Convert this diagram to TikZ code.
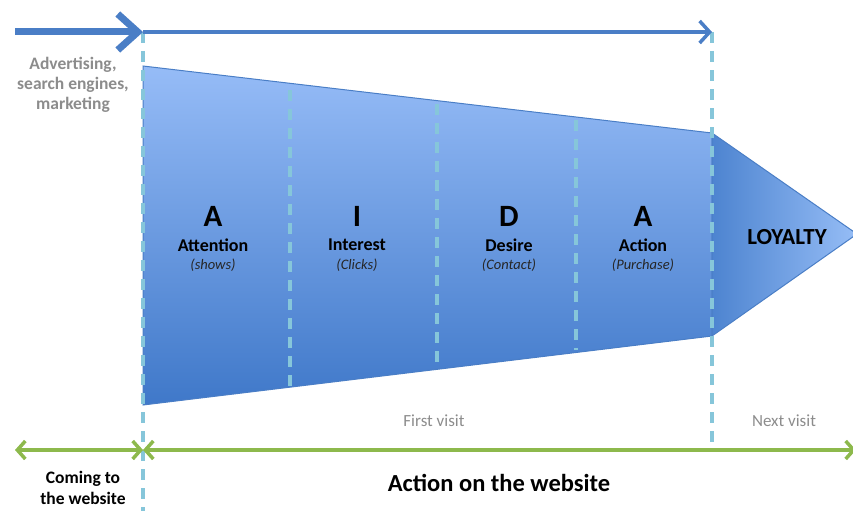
\documentclass[tikz,border=0pt]{standalone}
\usepackage{fontspec}
\setmainfont{Carlito}
\usetikzlibrary{arrows.meta}
\definecolor{flow}{HTML}{4A7EC6}
\definecolor{dashc}{HTML}{86C6DA}
\definecolor{grn}{HTML}{8DB94C}
\definecolor{greytxt}{HTML}{8C8C8C}
\definecolor{ftop}{HTML}{96BCF7}
\definecolor{fbot}{HTML}{3F78C9}
\definecolor{lleft}{HTML}{4D84D0}
\definecolor{lright}{HTML}{96BDF6}
\tikzset{
  guide/.style={dashc, line width=3.2pt, dash pattern=on 11pt off 8pt},
  letter/.style={font=\bfseries\fontsize{31}{33}\selectfont, text=black},
  title/.style={font=\bfseries\fontsize{18}{20}\selectfont, text=black},
  sub/.style={font=\itshape\fontsize{14.5}{16}\selectfont, text=black!85},
  grey/.style={font=\fontsize{17}{19}\selectfont, text=greytxt},
  greyb/.style={font=\bfseries\fontsize{17.5}{20}\selectfont, text=greytxt, align=center},
  gbarb/.tip={Straight Barb[length=8pt,width=18pt,line width=3.5pt]},
}
\begin{document}
\begin{tikzpicture}[x=1pt,y=-1pt]
\useasboundingbox (0,0) rectangle (853,511);
\clip (0,0) rectangle (853,511);
% coordinates
\coordinate (ft) at (143,66);
\coordinate (fb) at (143,405);
\coordinate (rt) at (712,133);
\coordinate (rb) at (712,336);
\coordinate (tip) at (857,234);
% funnel
\shade[top color=ftop, bottom color=fbot, draw=flow, line width=1pt] (ft) -- (rt) -- (rb) -- (fb) -- cycle;
\shade[left color=lleft, right color=lright, draw=flow, line width=1pt] (rt) -- (tip) -- (rb) -- cycle;
% guides
\coordinate (g0t) at (143,32); \coordinate (g0b) at (143,511);
\coordinate (g1t) at (290,90); \coordinate (g1b) at (290,386);
\coordinate (g2t) at (437,104); \coordinate (g2b) at (437,366);
\coordinate (g3t) at (576,120); \coordinate (g3b) at (576,350);
\coordinate (g4t) at (712,32); \coordinate (g4b) at (712,445);
\draw[guide] (g0t) -- (g0b);
\draw[guide] (g1t) -- (g1b);
\draw[guide] (g2t) -- (g2b);
\draw[guide] (g3t) -- (g3b);
\draw[guide] (g4t) -- (g4b);
% top arrows
\coordinate (a0) at (15,32);
\draw[flow, line width=7pt, -{Straight Barb[length=20pt,width=36pt,line width=7pt]}] (a0) -- (g0t);
\draw[flow, line width=3.5pt, -{Straight Barb[length=10pt,width=22pt,line width=3.5pt]}] (g0t) -- (g4t);
% bottom arrows
\coordinate (b0) at (15,450);
\coordinate (b1) at (143,450);
\coordinate (b2) at (856,450);
\draw[grn, line width=3.5pt, gbarb-gbarb] (b0) -- (b1);
\draw[grn, line width=3.5pt, gbarb-gbarb] (b1) -- (b2);
% stage texts
\node[letter] (l1) at (213,216) {A};
\node[title] (t1) at (213,245) {Attention};
\node[sub] (s1) at (213,265) {(shows)};
\node[letter] (l2) at (357,216) {I};
\node[title] (t2) at (357,245) {Interest};
\node[sub] (s2) at (357,265) {(Clicks)};
\node[letter] (l3) at (509,216) {D};
\node[title] (t3) at (509,245) {Desire};
\node[sub] (s3) at (509,265) {(Contact)};
\node[letter] (l4) at (643,216) {A};
\node[title] (t4) at (643,245) {Action};
\node[sub] (s4) at (643,265) {(Purchase)};
\node[font=\bfseries\fontsize{23}{25}\selectfont] (loy) at (787,237) {LOYALTY};
% side texts
\node[greyb] (adv) at (73,85) {Advertising,\\search engines,\\marketing};
\node[grey] (fv) at (434,421) {First visit};
\node[grey] (nv) at (784,421) {Next visit};
\node[font=\bfseries\fontsize{17.5}{21}\selectfont, align=center] (come) at (83,488) {Coming to\\the website};
\node[font=\bfseries\fontsize{24.5}{27}\selectfont] (act) at (499,483) {Action on the website};
\end{tikzpicture}
\end{document}
